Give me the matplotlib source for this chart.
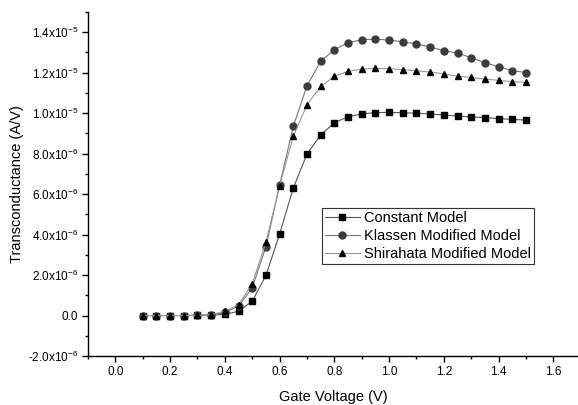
import matplotlib
matplotlib.use("Agg")
import matplotlib.pyplot as plt
from matplotlib.ticker import MultipleLocator

plt.rcParams['font.family'] = ['Liberation Sans', 'DejaVu Sans']
plt.rcParams['mathtext.fontset'] = 'custom'
plt.rcParams['mathtext.rm'] = 'Liberation Sans'
plt.rcParams['mathtext.it'] = 'Liberation Sans'

# gate voltage (V)
vg = [0.10, 0.15, 0.20, 0.25, 0.30, 0.35, 0.40, 0.45, 0.50, 0.55,
      0.60, 0.65, 0.70, 0.75, 0.80, 0.85, 0.90, 0.95, 1.00, 1.05,
      1.10, 1.15, 1.20, 1.25, 1.30, 1.35, 1.40, 1.45, 1.50]

# transconductance, in units of 1e-6 A/V
constant = [0.0, 0.0, 0.0, 0.0, 0.01, 0.02, 0.06, 0.21, 0.71, 1.98,
            4.03, 6.30, 7.98, 8.93, 9.52, 9.83, 9.96, 10.03, 10.04, 10.02,
            10.00, 9.96, 9.91, 9.86, 9.81, 9.78, 9.73, 9.69, 9.66]
klassen = [0.0, 0.0, 0.0, 0.0, 0.01, 0.03, 0.15, 0.46, 1.37, 3.40,
           6.45, 9.35, 11.36, 12.56, 13.14, 13.48, 13.63, 13.66, 13.61, 13.53,
           13.42, 13.27, 13.09, 12.97, 12.74, 12.49, 12.30, 12.10, 12.01]
shirahata = [0.0, 0.0, 0.0, 0.0, 0.01, 0.04, 0.21, 0.54, 1.57, 3.62,
             6.42, 8.85, 10.42, 11.32, 11.82, 12.07, 12.18, 12.21, 12.20, 12.15,
             12.10, 12.03, 11.95, 11.82, 11.77, 11.69, 11.62, 11.56, 11.52]

labels = ['Constant Model', 'Klassen Modified Model', 'Shirahata Modified Model']

xticks = [0.0, 0.2, 0.4, 0.6, 0.8, 1.0, 1.2, 1.4, 1.6]
xtick_labels = ['0.0', '0.2', '0.4', '0.6', '0.8', '1.0', '1.2', '1.4', '1.6']
yticks = [-2e-6, 0, 2e-6, 4e-6, 6e-6, 8e-6, 1e-5, 1.2e-5, 1.4e-5]
ytick_labels = ['-2.0x10$^{-6}$', '0.0', '2.0x10$^{-6}$', '4.0x10$^{-6}$',
                '6.0x10$^{-6}$', '8.0x10$^{-6}$', '1.0x10$^{-5}$',
                '1.2x10$^{-5}$', '1.4x10$^{-5}$']

fig = plt.figure(figsize=(5.78, 4.05), dpi=100)
ax = fig.add_axes([88 / 578, 49 / 405, 490 / 578, 344 / 405])

sc = lambda v: [a * 1e-6 for a in v]
ax.plot(vg, sc(constant), color='#555555', lw=0.8, marker='s', ms=4.5,
        mfc='black', mec='black', label=labels[0])
ax.plot(vg, sc(klassen), color='#777777', lw=0.8, marker='o', ms=5,
        mfc='#3c3c3c', mec='#3c3c3c', label=labels[1])
ax.plot(vg, sc(shirahata), color='#999999', lw=0.8, marker='^', ms=5,
        mfc='black', mec='black', label=labels[2])

ax.set_xlim(-0.1, 1.69)
ax.set_ylim(-2e-6, 1.5e-5)
ax.set_xticks(xticks)
ax.set_xticklabels(xtick_labels)
ax.xaxis.set_minor_locator(MultipleLocator(0.1))
ax.set_yticks(yticks)
ax.set_yticklabels(ytick_labels)
ax.yaxis.set_minor_locator(MultipleLocator(1e-6))

for s in ['top', 'right']:
    ax.spines[s].set_visible(False)
for s in ['left', 'bottom']:
    ax.spines[s].set_linewidth(1.0)
ax.tick_params(which='major', direction='out', length=4, width=1, labelsize=8.5, pad=3)
ax.tick_params(which='minor', direction='out', length=2.5, width=1)

ax.set_xlabel('Gate Voltage (V)', fontsize=10.5, labelpad=9)
ax.set_ylabel('Transconductance (A/V)', fontsize=10.5, labelpad=3)

leg = ax.legend(loc='upper left', bbox_to_anchor=(0.477, 0.429), borderaxespad=0,
                fontsize=10.5, numpoints=1, handlelength=2.4, handletextpad=0.3,
                labelspacing=0.27, borderpad=0.2, fancybox=False, framealpha=1)
leg.get_frame().set_edgecolor('#333333')
leg.get_frame().set_linewidth(0.8)

fig.savefig('out.png', dpi=100)
